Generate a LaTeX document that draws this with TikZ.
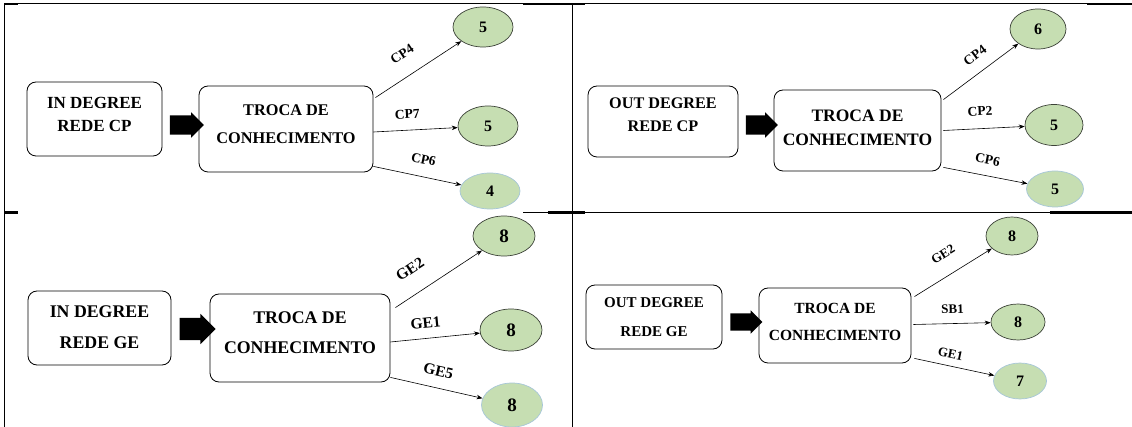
\documentclass[tikz,border=0pt]{standalone}
\usepackage{fontspec}
\setmainfont{Liberation Serif}
\usetikzlibrary{shapes.geometric,shapes.arrows,arrows.meta}
\definecolor{leafgreen}{HTML}{C6DEB2}
\definecolor{rimdark}{HTML}{3C4238}
\definecolor{rimlight}{HTML}{A6C6D8}
\begin{document}
\begin{tikzpicture}[x=1pt,y=-1pt,
  frame/.style={line width=1pt, black},
  framebold/.style={line width=2.2pt, black},
  degbox/.style={draw, line width=0.8pt, rounded corners=9pt, inner sep=0pt},
  boxtext/.style={align=center, inner sep=0pt},
  leafnode/.style={ellipse, draw=rimdark, line width=0.7pt, fill=leafgreen, inner sep=0pt},
  leaflight/.style={leafnode, draw=rimlight},
  fatarrow/.style={single arrow, fill=black, draw=none, inner xsep=0pt,
    inner ysep=9.5pt, single arrow head extend=3pt},
  link/.style={-{Stealth[length=6pt,width=4.5pt]}, line width=0.6pt},
  edgelbl/.style={inner sep=1pt, sloped}
]
\useasboundingbox (0,0) rectangle (1132,427);

% ---------- table rules ----------
\draw[frame] (4.5,3.5) -- (1132,3.5);
\draw[frame] (4.5,3.5) -- (4.5,427);
\draw[frame] (572,3.5) -- (572,427);
\draw[frame] (523,212.5) -- (1132,212.5);
\draw[framebold] (4,4) -- (18,4);
\draw[framebold] (523,4) -- (585,4);
\draw[framebold] (1087,4) -- (1132,4);
\draw[framebold] (4,212.5) -- (18,212.5);
\draw[framebold] (548,212.5) -- (585,212.5);
\draw[framebold] (1050,212.5) -- (1132,212.5);

% ---------- in degree, rede CP ----------
\node[degbox, minimum width=135, minimum height=74] (tlA) at (94.5,119) {};
\node[boxtext, font=\fontsize{17}{23}\selectfont\bfseries] (tlAt) at (94.5,114.5) {IN DEGREE\\REDE CP};
\node[fatarrow, minimum height=34] (tlF) at (182,125) {};
\node[degbox, minimum width=174, minimum height=86] (tlB) at (286,129) {};
\node[boxtext, font=\fontsize{16.3}{28}\selectfont\bfseries] (tlBt) at (286,124) {TROCA DE\\CONHECIMENTO};
\node[leafnode, minimum width=60, minimum height=40, font=\fontsize{16}{16}\selectfont\bfseries] (tl1) at (483,27) {5};
\node[leafnode, minimum width=60, minimum height=40, font=\fontsize{16}{16}\selectfont\bfseries] (tl2) at (488,126) {5};
\node[leaflight, minimum width=60, minimum height=36, font=\fontsize{16}{16}\selectfont\bfseries] (tl3) at (490,191) {4};
\begin{scope}[every node/.append style={font=\fontsize{13.5}{14}\selectfont\bfseries}]
\draw[link] ([shift={(2,12)}]tlB.north east) -- node[edgelbl, pos=0.45, above=16pt] (tlL1) {CP4} (tl1);
\draw[link] ([shift={(0,3)}]tlB.east) -- node[edgelbl, pos=0.41, above=10pt] (tlL2) {CP7} (tl2);
\draw[link] ([shift={(0,-6)}]tlB.south east) -- node[edgelbl, pos=0.53, above=11.5pt] (tlL3) {CP6} (tl3);
\end{scope}

% ---------- out degree, rede CP ----------
\node[degbox, minimum width=150, minimum height=71] (trA) at (663,121.5) {};
\node[boxtext, font=\fontsize{16.2}{23}\selectfont\bfseries] (trAt) at (663,114.5) {OUT DEGREE\\REDE CP};
\node[fatarrow, minimum height=32] (trF) at (757,125) {};
\node[degbox, minimum width=167, minimum height=81] (trB) at (857.5,130.5) {};
\node[boxtext, font=\fontsize{17.5}{24}\selectfont\bfseries] (trBt) at (857.5,128) {TROCA DE\\CONHECIMENTO};
\node[leafnode, minimum width=56, minimum height=40, font=\fontsize{16}{16}\selectfont\bfseries] (tr1) at (1038,29) {6};
\node[leafnode, minimum width=58, minimum height=41, font=\fontsize{16}{16}\selectfont\bfseries] (tr2) at (1054,125) {5};
\node[leaflight, minimum width=57, minimum height=36, font=\fontsize{16}{16}\selectfont\bfseries] (tr3) at (1055,189) {5};
\begin{scope}[every node/.append style={font=\fontsize{13.5}{14}\selectfont\bfseries}]
\draw[link] ([shift={(2,10)}]trB.north east) -- node[edgelbl, pos=0.55, above=10.5pt] (trL1) {CP4} (tr1);
\draw[link] ([shift={(2,0)}]trB.east) -- node[edgelbl, pos=0.46, above=11.5pt] (trL2) {CP2} (tr2);
\draw[link] ([shift={(2,-4)}]trB.south east) -- node[edgelbl, pos=0.49, above=10pt] (trL3) {CP6} (tr3);
\end{scope}

% ---------- in degree, rede GE ----------
\node[degbox, minimum width=143, minimum height=74] (blA) at (99.5,328) {};
\node[boxtext, font=\fontsize{17.8}{31}\selectfont\bfseries] (blAt) at (99.5,327.5) {IN DEGREE\\REDE GE};
\node[fatarrow, minimum height=36, inner ysep=11pt, single arrow head extend=4pt] (blF) at (192,329) {};
\node[degbox, minimum width=180, minimum height=88] (blB) at (300,338) {};
\node[boxtext, font=\fontsize{17.8}{30}\selectfont\bfseries] (blBt) at (300,333) {TROCA DE\\CONHECIMENTO};
\node[leafnode, minimum width=62, minimum height=40, font=\fontsize{19}{19}\selectfont\bfseries] (bl1) at (504,236) {8};
\node[leafnode, minimum width=62, minimum height=42, font=\fontsize{19}{19}\selectfont\bfseries] (bl2) at (511,330) {8};
\node[leaflight, minimum width=61, minimum height=44, font=\fontsize{19}{19}\selectfont\bfseries] (bl3) at (512,405) {8};
\begin{scope}[every node/.append style={font=\fontsize{15.5}{16}\selectfont\bfseries}]
\draw[link] ([shift={(5,14)}]blB.north east) -- node[edgelbl, pos=0.32, above=17.5pt] (blL1) {GE2} (bl1);
\draw[link] ([shift={(0,4)}]blB.east) -- node[edgelbl, pos=0.41, above=8.5pt] (blL2) {GE1} (bl2);
\draw[link] ([shift={(0,-5)}]blB.south east) -- node[edgelbl, pos=0.48, above=10.5pt] (blL3) {GE5} (bl3);
\end{scope}

% ---------- out degree, rede GE ----------
\node[degbox, minimum width=136, minimum height=64] (brA) at (654,317) {};
\node[boxtext, font=\fontsize{15}{29}\selectfont\bfseries] (brAt) at (654,317.5) {OUT DEGREE\\REDE GE};
\node[fatarrow, minimum height=32, inner ysep=8.5pt] (brF) at (742,322) {};
\node[degbox, minimum width=152, minimum height=75] (brB) at (835,325.5) {};
\node[boxtext, font=\fontsize{15.5}{27}\selectfont\bfseries] (brBt) at (835,321.5) {TROCA DE\\CONHECIMENTO};
\node[leafnode, minimum width=52, minimum height=38, font=\fontsize{16}{16}\selectfont\bfseries] (br1) at (1012,236) {8};
\node[leafnode, minimum width=54, minimum height=36, font=\fontsize{16}{16}\selectfont\bfseries] (br2) at (1018,322) {8};
\node[leaflight, minimum width=53, minimum height=36, font=\fontsize{16}{16}\selectfont\bfseries] (br3) at (1020,381) {7};
\begin{scope}[every node/.append style={font=\fontsize{13}{14}\selectfont\bfseries}]
\draw[link] ([shift={(3,9)}]brB.north east) -- node[edgelbl, pos=0.51, above=15pt] (brL1) {GE2} (br1);
\draw[link] ([shift={(2,-1)}]brB.east) -- node[edgelbl, pos=0.51, above=9pt] (brL2) {SB1} (br2);
\draw[link] ([shift={(3,-5)}]brB.south east) -- node[edgelbl, pos=0.42, above=6.5pt] (brL3) {GE1} (br3);
\end{scope}
\end{tikzpicture}
\end{document}
